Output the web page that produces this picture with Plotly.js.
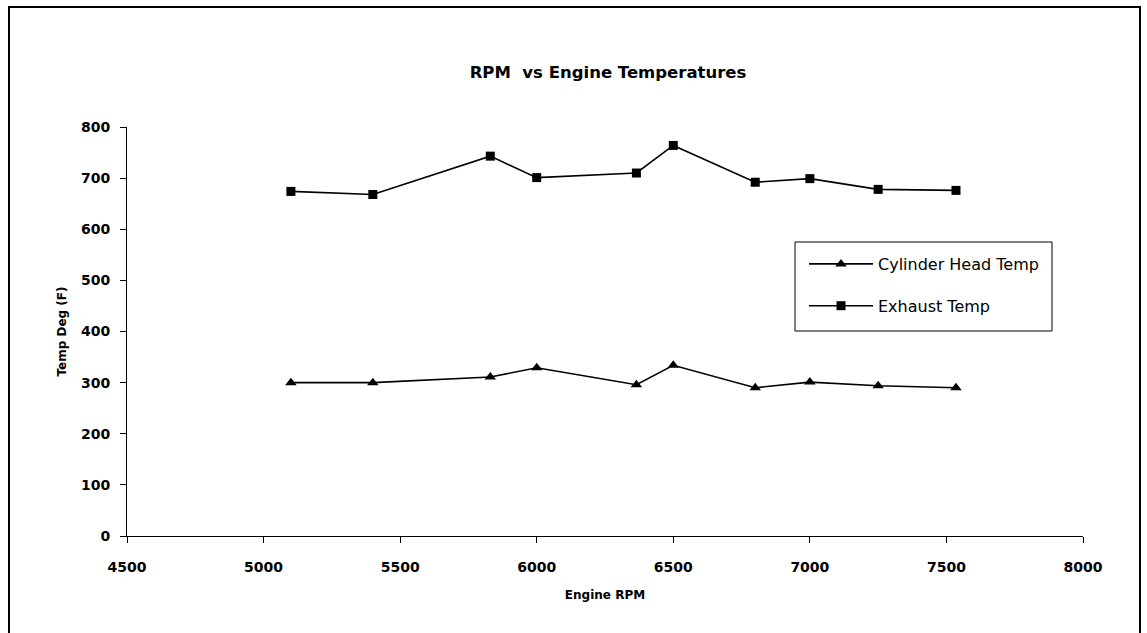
<!DOCTYPE html>
<html>
<head>
<meta charset="utf-8">
<script src="https://cdn.plot.ly/plotly-3.0.1.min.js"></script>
<style>
html,body{margin:0;padding:0;background:#fff;}
#chart{width:1147px;height:633px;}
</style>
</head>
<body>
<div id="chart"></div>
<script>
// Data
var rpm = [5100, 5400, 5830, 6000, 6365, 6500, 6800, 7000, 7250, 7535];
var cylinderHeadTemp = [300, 300, 311, 329, 296, 334, 290, 301, 294, 290];
var exhaustTemp = [674, 668, 743, 701, 710, 764, 692, 699, 678, 676];
var xTicks = [4500, 5000, 5500, 6000, 6500, 7000, 7500, 8000];
var yTicks = [0, 100, 200, 300, 400, 500, 600, 700, 800];

var tickFont = {family: 'DejaVu Sans', size: 14, color: '#000', weight: 'bold'};
var titleFont = {family: 'DejaVu Sans', size: 12, color: '#000', weight: 'bold'};

// pixel -> paper helpers (plot area: x 127..1083, y 536..127)
function px(v) { return (v - 127) / 956; }
function py(v) { return (536 - v) / 409; }

var traces = [
  {
    x: rpm, y: cylinderHeadTemp, type: 'scatter', mode: 'lines+markers',
    name: 'Cylinder Head Temp', legendgroup: 'a',
    line: {color: '#000', width: 1.6},
    marker: {symbol: 'triangle-up', size: 10, color: '#000'}
  },
  {
    x: rpm, y: exhaustTemp, type: 'scatter', mode: 'lines+markers',
    name: 'Exhaust Temp', legendgroup: 'b',
    line: {color: '#000', width: 1.6},
    marker: {symbol: 'square', size: 9, color: '#000'}
  }
];

var layout = {
  width: 1147, height: 633,
  paper_bgcolor: '#fff', plot_bgcolor: '#fff',
  margin: {l: 127, r: 64, t: 127, b: 97, pad: 0},
  showlegend: true,
  title: {
    text: 'RPM\u00A0 vs Engine Temperatures',
    font: {family: 'DejaVu Sans', size: 16.5, color: '#000', weight: 'bold'},
    x: 608 / 1147, xanchor: 'center', xref: 'container',
    y: 1 - 72 / 633, yanchor: 'middle', yref: 'container'
  },
  xaxis: {
    range: [4500, 8000], tickvals: xTicks, ticktext: xTicks.map(String),
    showgrid: false, zeroline: false, showline: true, linecolor: '#000', linewidth: 1,
    ticks: 'outside', ticklen: 6, tickcolor: '#000', tickwidth: 1,
    tickfont: tickFont, ticklabelstandoff: 12,
    title: {text: 'Engine RPM', font: titleFont, standoff: 16},
    fixedrange: true
  },
  xaxis2: {
    range: [4500, 8000], tickvals: xTicks, overlaying: 'x', anchor: 'y', side: 'bottom',
    showgrid: false, zeroline: false, showline: false, showticklabels: false,
    ticks: 'inside', ticklen: 5, tickcolor: '#000', tickwidth: 1
  },
  yaxis: {
    range: [0, 800], tickvals: yTicks, ticktext: yTicks.map(String),
    showgrid: false, zeroline: false, showline: true, linecolor: '#000', linewidth: 1,
    ticks: 'outside', ticklen: 6, tickcolor: '#000', tickwidth: 1,
    tickfont: tickFont, ticklabelstandoff: 7,
    title: {text: 'Temp Deg (F)', font: titleFont, standoff: 11},
    fixedrange: true
  },
  yaxis2: {
    range: [0, 800], tickvals: yTicks, overlaying: 'y', anchor: 'x', side: 'left',
    showgrid: false, zeroline: false, showline: false, showticklabels: false,
    ticks: 'inside', ticklen: 5, tickcolor: '#000', tickwidth: 1
  },
  legend: {
    x: px(804), y: py(247), xanchor: 'left', yanchor: 'top',
    bgcolor: 'rgba(0,0,0,0)', borderwidth: 0,
    font: {family: 'DejaVu Sans', size: 16, color: '#000'},
    traceorder: 'grouped', tracegroupgap: 18, itemwidth: 64
  },
  shapes: [
    {type: 'rect', xref: 'paper', yref: 'paper',
     x0: px(9), x1: px(1140), y0: py(645), y1: py(7),
     line: {color: '#000', width: 2}, fillcolor: 'rgba(0,0,0,0)', layer: 'below'},
    {type: 'rect', xref: 'paper', yref: 'paper',
     x0: px(795), x1: px(1052), y0: py(331), y1: py(242),
     line: {color: '#000', width: 1}, fillcolor: '#fff', layer: 'above'}
  ]
};

Plotly.newPlot('chart', traces, layout, {staticPlot: true, displayModeBar: false});
</script>
</body>
</html>
